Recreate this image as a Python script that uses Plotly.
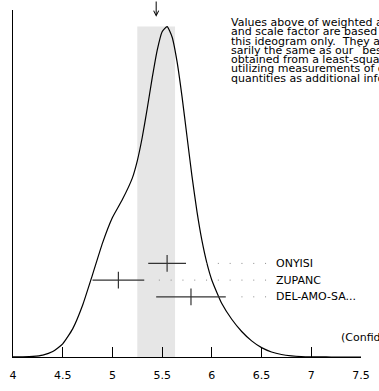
import plotly.graph_objects as go

# ---- data ----
names = ["ONYISI", "ZUPANC", "DEL-AMO-SA..."]
values = [5.55, 5.06, 5.79]
errors = [0.19, 0.26, 0.35]

weighted_average = 5.44
average_error = 0.19

# ideogram curve (x, height)
curve_x = [4.0, 4.1, 4.2, 4.3, 4.4, 4.5, 4.6, 4.7, 4.8, 4.9, 5.0, 5.1, 5.2, 5.25,
           5.3, 5.35, 5.4, 5.45, 5.5, 5.55, 5.6, 5.65, 5.7, 5.75, 5.8, 5.85, 5.9,
           5.95, 6.0, 6.1, 6.2, 6.3, 6.4, 6.5, 6.6, 6.7, 6.8, 6.9, 7.0, 7.1, 7.2,
           7.3, 7.4, 7.5]
curve_y = [0.004, 0.016, 0.062, 0.21, 0.60, 1.46, 3.12, 5.74, 9.14, 12.64, 15.47,
           17.47, 19.85, 21.77, 24.38, 27.57, 30.96, 34.02, 36.09, 36.66, 35.51,
           32.78, 28.89, 24.47, 20.07, 16.15, 12.93, 10.41, 8.52, 5.93, 4.19, 2.83,
           1.79, 1.04, 0.56, 0.28, 0.13, 0.05, 0.02, 0.007, 0.002, 0.0, 0.0, 0.0]

tick_vals = [4.0, 4.5, 5.0, 5.5, 6.0, 6.5, 7.0, 7.5]
tick_text = ["4", "4.5", "5", "5.5", "6", "6.5", "7", "7.5"]

note_lines = [
    "Values above of weighted average, error,",
    "and scale factor are based upon the data in",
    "this ideogram only.  They are not neces-",
    "sarily the same as our `best' values,",
    "obtained from a least-squares constrained fit",
    "utilizing measurements of other (related)",
    "quantities as additional information.",
]
confidence_text = "(Confidence Level = 0.176)"

# ---- layout geometry ----
W, H = 379, 391
ML, MR, MT, MB = 9, 11, 10, 24
PH = H - MT - MB
PW = W - ML - MR
FONT = "DejaVu Sans, Liberation Sans, Arial, sans-serif"
FS = 11


def py(ypx):
    return (H - MB - ypx) / PH


def px(xpx):
    return (xpx - ML) / PW


xmin, xmax = 4.0, 7.5
dot_anchor = 6.545   # right end of dotted leaders
label_x = 6.623

fig = go.Figure()

# shaded band of weighted average +- error
fig.add_shape(type="rect", xref="x", yref="y",
              x0=weighted_average - average_error, x1=weighted_average + average_error,
              y0=0, y1=max(curve_y), fillcolor="#e6e6e6", line_width=0, layer="below")

# ideogram curve
fig.add_trace(go.Scatter(x=curve_x, y=curve_y, mode="lines",
                         line=dict(color="black", width=1.2, shape="spline", smoothing=0.5),
                         hoverinfo="skip", showlegend=False))

rows = [-i for i in range(len(names))]

# dotted leader lines
for v, e, r in zip(values, errors, rows):
    fig.add_trace(go.Scatter(x=[dot_anchor, v + e + 0.1], y=[r, r], yaxis="y2",
                             mode="lines",
                             line=dict(color="#8a8a8a", width=1, dash="1px,10.8px"),
                             hoverinfo="skip", showlegend=False))

# measurements
fig.add_trace(go.Scatter(x=values, y=rows, yaxis="y2", mode="markers",
                         marker=dict(symbol="line-ns", size=12,
                                     line=dict(color="#333333", width=1.2)),
                         error_x=dict(type="data", array=errors, width=0,
                                      thickness=1.2, color="#333333"),
                         hoverinfo="skip", showlegend=False))

annotations = []
for nm, r in zip(names, rows):
    annotations.append(dict(x=label_x, y=r, xref="x", yref="y2", text=nm,
                            showarrow=False, xanchor="left", yanchor="middle",
                            font=dict(family=FONT, size=FS, color="black")))

for i, line in enumerate(note_lines):
    annotations.append(dict(x=px(232), y=py(22.7 + 9.6 * i), xref="paper", yref="paper",
                            text=line, showarrow=False, xanchor="left", yanchor="middle",
                            font=dict(family=FONT, size=FS, color="black")))

annotations.append(dict(x=px(345), y=py(347), xref="paper", yref="paper",
                        text=confidence_text, showarrow=False, xanchor="left",
                        yanchor="middle", font=dict(family=FONT, size=FS, color="black")))

# arrow at weighted average
annotations.append(dict(x=weighted_average, y=py(17), xref="x", yref="paper", text="",
                        showarrow=True, ax=0, ay=-17, arrowhead=5, arrowsize=1,
                        arrowwidth=1, arrowcolor="black"))

fig.update_layout(
    width=W, height=H,
    margin=dict(l=ML, r=MR, t=MT, b=MB, pad=0),
    paper_bgcolor="white", plot_bgcolor="white",
    showlegend=False,
    xaxis=dict(range=[xmin, xmax], tickvals=tick_vals, ticktext=tick_text,
               ticks="inside", ticklen=10, tickwidth=1, tickcolor="black",
               ticklabelstandoff=8,
               showline=True, linecolor="black", linewidth=1, showgrid=False,
               zeroline=False, tickfont=dict(family=FONT, size=FS, color="black")),
    yaxis=dict(range=[0, 38.5], showline=True, linecolor="black", linewidth=1,
               showticklabels=False, ticks="", showgrid=False, zeroline=False),
    yaxis2=dict(range=[-5.6, 15.16], overlaying="y", visible=False),
    annotations=annotations,
)

fig.write_html("out.html", config={"displayModeBar": False},
               post_script="document.documentElement.style.margin='0';document.body.style.margin='0';document.documentElement.style.overflow='hidden';document.body.style.overflow='hidden';")
